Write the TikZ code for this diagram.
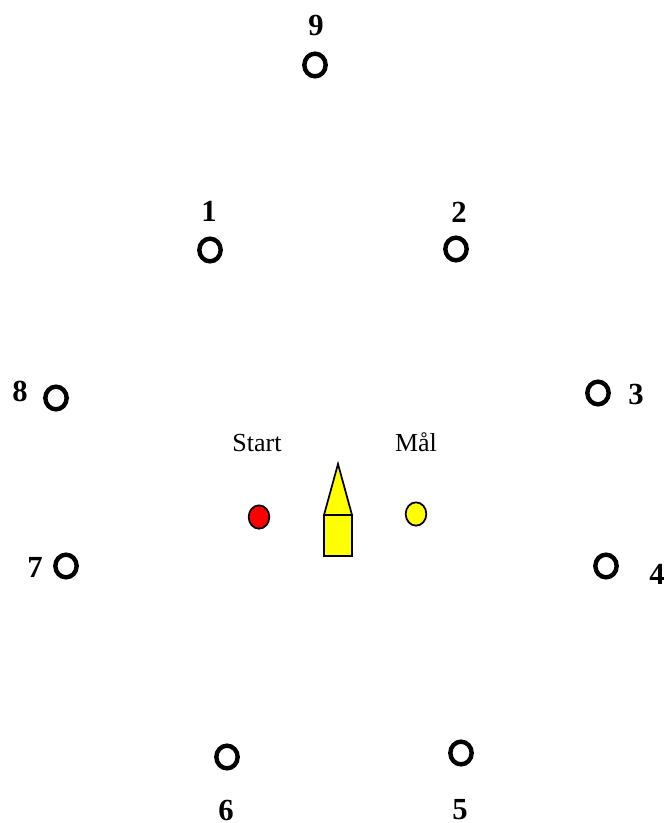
\documentclass[tikz,border=0pt]{standalone}
\usepackage{fontspec}
\setmainfont{Liberation Serif}
\definecolor{markyellow}{RGB}{255,255,0}
\definecolor{markred}{RGB}{255,0,0}
\usetikzlibrary{shapes.geometric}
\tikzset{
  buoy/.style={ellipse, draw=black, line width=3.3pt, fill=white, minimum width=16pt, minimum height=17pt, inner sep=0pt},
  num/.style={font=\fontsize{23}{25}\selectfont\bfseries, inner sep=0pt},
  word/.style={font=\fontsize{19.5}{22}\selectfont},
  mark ball/.style={ellipse, draw=black, line width=1.3pt, minimum width=15.5pt, minimum height=17.5pt, inner sep=0pt},
  tower/.style={draw=black, line width=1.3pt, fill=markyellow}
}
\begin{document}
\begin{tikzpicture}[x=0.75pt, y=-0.75pt]
  \useasboundingbox (0,0) rectangle (666,823);

  % Buoys round the course
  \node[buoy] (b9) at (315,65) {};
  \node[buoy] (b1) at (210,250) {};
  \node[buoy] (b2) at (456,249) {};
  \node[buoy] (b8) at (56,398) {};
  \node[buoy] (b3) at (598,393) {};
  \node[buoy] (b7) at (66,566) {};
  \node[buoy] (b4) at (606,566) {};
  \node[buoy] (b6) at (227,757) {};
  \node[buoy] (b5) at (461,753) {};

  % Buoy numbers
  \node[num] (n9) at (316,26) {9};
  \node[num] (n1) at (209,211) {1};
  \node[num] (n2) at (459,212) {2};
  \node[num] (n8) at (20,391) {8};
  \node[num] (n3) at (636,394) {3};
  \node[num] (n7) at (35,567) {7};
  \node[num] (n4) at (657,574) {4};
  \node[num] (n6) at (226,810) {6};
  \node[num] (n5) at (460,810) {5};

  % Start and finish
  \node[word] (start) at (257,443) {Start};
  \node[word] (maal) at (416,442) {Mål};
  \node[mark ball, fill=markred] (ballstart) at (259,517) {};
  \node[mark ball, fill=markyellow] (ballmaal) at (416,514) {};

  % Tower
  \draw[tower] (338,464) -- (352,515) -- (324,515) -- cycle;
  \draw[tower] (324,515) rectangle (352,556);
\end{tikzpicture}
\end{document}
